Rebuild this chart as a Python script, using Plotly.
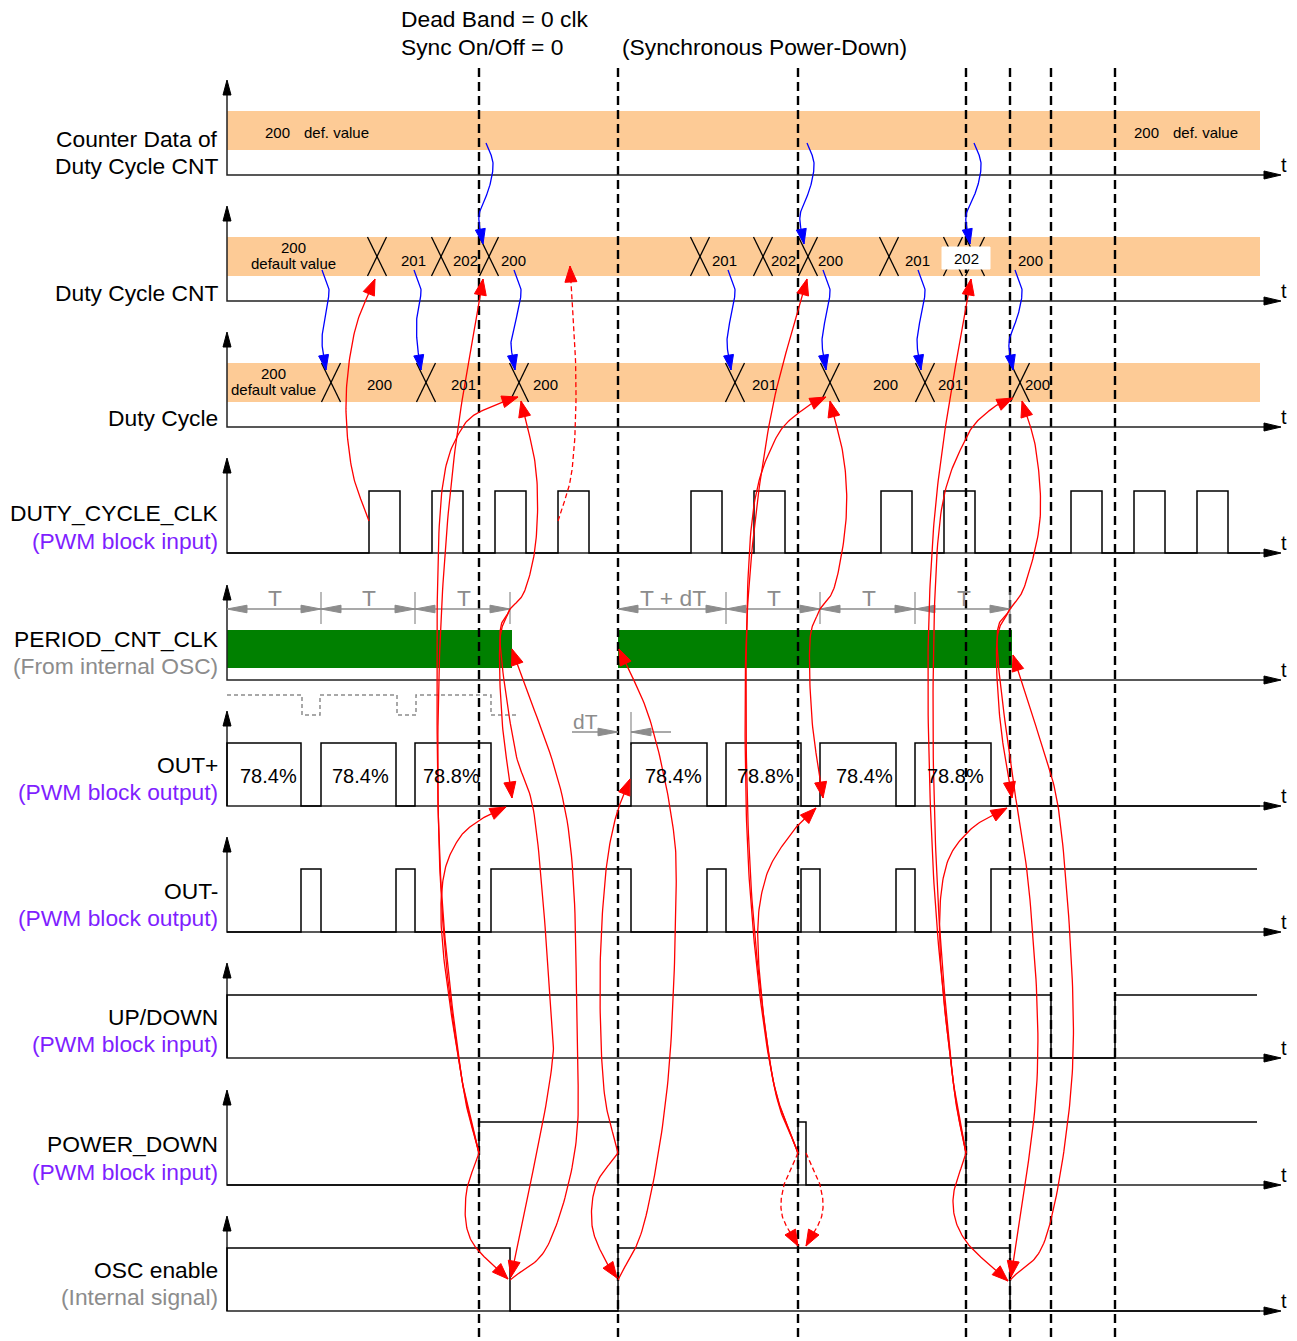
import numpy as np
import plotly.graph_objects as go

W, H = 1297, 1341
FONT = "Liberation Sans, Arial, sans-serif"
PURPLE = "#7F1FFF"
GRAY = "#8C8C8C"
ORANGE = "#FDCB96"
GREEN = "#008000"
RED = "#FF0000"
BLUE = "#0000FF"

# ---------------- data ----------------
T_START, T_SIG_END, T_BAND_END, T_AXIS_END = 227, 1257, 1260, 1281
ROW_BASE = [175, 301, 427, 553, 680, 806, 932, 1058, 1185, 1311]
HIGH = 62
ROW_TITLES = ["Counter Data of", "Duty Cycle CNT", "Duty Cycle", "DUTY_CYCLE_CLK", "PERIOD_CNT_CLK",
              "OUT+", "OUT-", "UP/DOWN", "POWER_DOWN", "OSC enable"]
ROW_SUBTITLES = ["Duty Cycle CNT", None, None, "(PWM block input)", "(From internal OSC)",
                 "(PWM block output)", "(PWM block output)", "(PWM block input)", "(PWM block input)",
                 "(Internal signal)"]
ROW_SUB_COLORS = ["black", None, None, PURPLE, GRAY, PURPLE, PURPLE, PURPLE, PURPLE, GRAY]
ROW_TITLE_DY = [-36, -8, -9, -40, -41, -41, -41, -41, -41, -41]
ROW_SUB_DY = [-9, None, None, -12, -14, -14, -14, -14, -13, -14]

SYNC_T = [479, 618, 798, 966, 1010, 1051, 1115]

COUNTER_TEXT_T = [277, 336, 1146, 1205]
COUNTER_TEXT = ["200", "def. value", "200", "def. value"]

CNT_CROSS_T = [377, 441, 489, 700, 763, 808, 889, 953, 975]
CNT_TEXT_T = [293, 413, 465, 513, 724, 783, 830, 917, 966, 1030]
CNT_TEXT = ["200|default value", "201", "202", "200", "201", "202", "200", "201", "202", "200"]
CNT_BOXED = 966

DC_CROSS_T = [331, 426, 519, 735, 830, 925, 1020]
DC_TEXT_T = [273, 379, 463, 545, 764, 885, 950, 1037]
DC_TEXT = ["200|default value", "200", "201", "200", "201", "200", "201", "200"]

CLK_RISE = [369, 432, 495, 558, 691, 754, 881, 944, 1071, 1134, 1197]
CLK_WIDTH = 31

PERIOD_ON = [(227, 512), (618, 1012)]
T_MARKS = [[227, 321, 415, 510], [618, 726, 820, 915, 1010]]
T_LABELS = [["T", "T", "T"], ["T + dT", "T", "T", "T"]]

GHOST_EDGES = [302, 320, 397, 416, 491]
GHOST_END = 517

OUT_P = [(227, 301), (321, 396), (415, 491), (631, 707), (726, 801), (820, 896), (915, 991)]
OUT_P_DUTY = ["78.4%", "78.4%", "78.8%", "78.4%", "78.8%", "78.4%", "78.8%"]
OUT_P_TEXT_T = [268, 360, 451, 673, 765, 864, 955]
OUT_M = [(301, 321), (396, 415), (491, 631), (707, 726), (801, 820), (896, 915), (991, 1257)]
UP_DOWN = [(227, 1051), (1115, 1257)]
POWER_DOWN = [(479, 618), (798, 806), (966, 1257)]
OSC_EN = [(227, 510), (618, 1010)]

# cause -> effect links (time, y) waypoints
RED_LINKS = [
    ([(369, 521), (352, 470), (346, 400), (355, 330), (375, 279)], False),
    ([(558, 521), (572, 470), (576, 380), (570, 266)], True),
    ([(479, 1153), (462, 1080), (445, 950), (438, 800), (441, 620), (455, 450), (483, 279)], False),
    ([(479, 1153), (462, 1080), (442, 900), (437, 700), (441, 500), (462, 428), (495, 405), (518, 397)], False),
    ([(479, 1153), (462, 1080), (443, 950), (443, 880), (458, 840), (480, 820), (506, 807)], False),
    ([(479, 1153), (466, 1195), (471, 1240), (508, 1279)], False),
    ([(510, 609), (525, 590), (536, 540), (536, 470), (521, 401)], False),
    ([(510, 609), (500, 640), (502, 720), (512, 798)], False),
    ([(510, 609), (500, 640), (515, 750), (535, 820), (550, 1000), (550, 1080), (511, 1277)], False),
    ([(510, 1280), (548, 1245), (575, 1150), (577, 1040), (567, 820), (512, 649)], False),
    ([(618, 1153), (596, 1185), (592, 1225), (604, 1258), (617, 1278)], False),
    ([(618, 1153), (604, 1090), (600, 980), (605, 880), (615, 820), (630, 779)], False),
    ([(618, 1280), (645, 1220), (668, 1080), (676, 900), (672, 820), (650, 720), (619, 649)], False),
    ([(798, 1153), (773, 1080), (755, 950), (746, 800), (748, 600), (770, 420), (807, 279)], False),
    ([(798, 1153), (773, 1080), (752, 900), (746, 700), (752, 520), (775, 440), (805, 408), (826, 397)], False),
    ([(798, 1153), (773, 1080), (758, 950), (765, 880), (790, 835), (816, 808)], False),
    ([(820, 609), (835, 585), (846, 520), (844, 460), (830, 401)], False),
    ([(820, 609), (810, 640), (812, 720), (823, 798)], False),
    ([(798, 1153), (784, 1185), (782, 1215), (798, 1246)], True),
    ([(806, 1153), (820, 1185), (822, 1215), (806, 1246)], True),
    ([(966, 1153), (953, 1080), (935, 900), (928, 700), (932, 550), (945, 430), (971, 279)], False),
    ([(966, 1153), (953, 1080), (938, 900), (933, 700), (940, 520), (965, 440), (990, 410), (1013, 398)], False),
    ([(966, 1153), (953, 1080), (940, 950), (945, 870), (970, 830), (1007, 808)], False),
    ([(966, 1153), (953, 1200), (965, 1240), (1008, 1281)], False),
    ([(1010, 609), (1025, 585), (1040, 520), (1036, 450), (1022, 401)], False),
    ([(1010, 609), (997, 640), (1000, 720), (1012, 798)], False),
    ([(1010, 609), (997, 640), (1010, 760), (1030, 900), (1037, 1080), (1011, 1277)], False),
    ([(1010, 1280), (1045, 1240), (1068, 1120), (1073, 1000), (1060, 820), (1040, 740), (1013, 655)], False),
]

BLUE_LINKS_1 = [(486, 483), (807, 804), (974, 970)]          # row1 -> row2 (start t, end t)
BLUE_LINKS_2 = [(322, 326), (414, 421), (514, 515), (728, 731), (823, 826), (918, 921), (1015, 1013)]

BIG = 22.8


# ---------------- helpers ----------------
def catmull(pts, n=24):
    P = np.array(pts, float)
    P = np.vstack([2 * P[0] - P[1], P, 2 * P[-1] - P[-2]])
    out = []
    for i in range(1, len(P) - 2):
        p0, p1, p2, p3 = P[i - 1], P[i], P[i + 1], P[i + 2]
        for t in np.linspace(0, 1, n, endpoint=False):
            t2, t3 = t * t, t * t * t
            out.append(0.5 * ((2 * p1) + (-p0 + p2) * t + (2 * p0 - 5 * p1 + 4 * p2 - p3) * t2
                              + (-p0 + 3 * p1 - 3 * p2 + p3) * t3))
    out.append(P[-2])
    return np.array(out)


def head(fig, tip, prev, color, L=15, w=5.5):
    tip = np.array(tip, float)
    d = tip - np.array(prev, float)
    d /= np.hypot(*d)
    n = np.array([-d[1], d[0]])
    base = tip - L * d
    pts = [tip, base + w * n, base - w * n, tip]
    fig.add_trace(go.Scatter(x=[p[0] for p in pts], y=[p[1] for p in pts], mode="lines",
                             fill="toself", fillcolor=color, line=dict(color=color, width=1),
                             hoverinfo="skip", showlegend=False))


def poly(fig, xs, ys, color="black", width=1.5, dash=None):
    fig.add_trace(go.Scatter(x=xs, y=ys, mode="lines",
                             line=dict(color=color, width=width, dash=dash),
                             hoverinfo="skip", showlegend=False))


def text(fig, x, y, s, size=15, color="black", anchor="center"):
    fig.add_annotation(x=x, y=y, text=s, showarrow=False, xanchor=anchor, yanchor="middle",
                       font=dict(family=FONT, size=size, color=color))


def wave(intervals, base, high):
    xs, ys = [T_START], [base]
    for a, b in intervals:
        xs += [a, a, b]
        ys += [base, high, high]
        if b < T_SIG_END:
            xs.append(b)
            ys.append(base)
    if xs[-1] < T_SIG_END and ys[-1] == base:
        xs.append(T_BAND_END)
        ys.append(base)
    return xs, ys


def band_text(t, b, s, single_dy):
    if "|" in s:
        top, bottom = s.split("|")
        text(fig, t, b - 54, top, size=15)
        text(fig, t, b - 38, bottom, size=15)
    else:
        text(fig, t, b + single_dy, s, size=15)


fig = go.Figure()
shapes = []

# bands
for r in (0, 1, 2):
    b = ROW_BASE[r]
    shapes.append(dict(type="rect", x0=T_START, x1=T_BAND_END, y0=b - 64, y1=b - 25,
                       fillcolor=ORANGE, line=dict(width=0), layer="below"))
for a, e in PERIOD_ON:
    b = ROW_BASE[4]
    shapes.append(dict(type="rect", x0=a, x1=e, y0=b - 50, y1=b - 12,
                       fillcolor=GREEN, line=dict(width=0), layer="below"))
# sync dashed lines
for t in SYNC_T:
    shapes.append(dict(type="line", x0=t, x1=t, y0=68, y1=H + 10,
                       line=dict(color="black", width=2.4, dash="9px,5px"), layer="below"))

# axes
for b in ROW_BASE:
    poly(fig, [T_START, T_START, T_AXIS_END - 15], [b - 82, b, b], color="#222222", width=1.5)
    head(fig, (T_START, b - 95), (T_START, b), "black", L=15, w=4)
    head(fig, (T_AXIS_END, b), (T_START, b), "black", L=17, w=4)
    text(fig, T_AXIS_END - 2, b - 10, "t", size=20, anchor="left")

# row labels
for i, b in enumerate(ROW_BASE):
    text(fig, 220, b + ROW_TITLE_DY[i], ROW_TITLES[i], size=BIG, anchor="right")
    if ROW_SUBTITLES[i]:
        text(fig, 220, b + ROW_SUB_DY[i], ROW_SUBTITLES[i], size=BIG,
             color=ROW_SUB_COLORS[i], anchor="right")

# title
text(fig, 399, 19, "Dead Band = 0 clk", size=BIG, anchor="left")
text(fig, 399, 47, "Sync On/Off = 0", size=BIG, anchor="left")
text(fig, 620, 47, "(Synchronous Power-Down)", size=BIG, anchor="left")

# counter data
for t, s in zip(COUNTER_TEXT_T, COUNTER_TEXT):
    text(fig, t, ROW_BASE[0] - 43, s, size=15)

# cross marks
for r, crosses in ((1, CNT_CROSS_T), (2, DC_CROSS_T)):
    b = ROW_BASE[r]
    for t in crosses:
        poly(fig, [t - 9.5, t + 9.5, None, t - 9.5, t + 9.5], [b - 64, b - 25, None, b - 25, b - 64],
             width=1.3)
# boxed value
b1 = ROW_BASE[1]
fig.add_trace(go.Scatter(x=[CNT_BOXED - 24, CNT_BOXED + 24, CNT_BOXED + 24, CNT_BOXED - 24, CNT_BOXED - 24],
                         y=[b1 - 54, b1 - 54, b1 - 32, b1 - 32, b1 - 54], mode="lines", fill="toself",
                         fillcolor="white", line=dict(color="white", width=1), hoverinfo="skip",
                         showlegend=False))
for t, s in zip(CNT_TEXT_T, CNT_TEXT):
    band_text(t, b1, s, -43 if t == CNT_BOXED else -41)
b2 = ROW_BASE[2]
for t, s in zip(DC_TEXT_T, DC_TEXT):
    band_text(t, b2, s, -43)

# DUTY_CYCLE_CLK
b = ROW_BASE[3]
xs, ys = wave([(r, r + CLK_WIDTH) for r in CLK_RISE], b, b - HIGH)
poly(fig, xs, ys)

# PERIOD dimension arrows
yd = ROW_BASE[4] - 71
for marks, labels in zip(T_MARKS, T_LABELS):
    for j in range(len(marks) - 1):
        a, e = marks[j], marks[j + 1]
        poly(fig, [a, e], [yd, yd], color=GRAY, width=1.5)
        head(fig, (a, yd), (e, yd), GRAY, L=20, w=3.8)
        head(fig, (e, yd), (a, yd), GRAY, L=20, w=3.8)
        text(fig, (a + e) / 2 + 1, yd - 11, labels[j], size=BIG, color=GRAY)
    for m in marks[1:]:
        poly(fig, [m, m], [yd - 17, yd + 15], color=GRAY, width=1.2)

# ghost waveform
bg = ROW_BASE[5]
gx, gy = [T_START], [bg - 111]
lev = [bg - 111, bg - 91]
state = 0
for e in GHOST_EDGES:
    gx += [e, e]
    gy += [lev[state], lev[1 - state]]
    state = 1 - state
gx.append(GHOST_END)
gy.append(lev[state])
poly(fig, gx, gy, color=GRAY, width=1.5, dash="4px,3px")

# dT dimension
ydt = ROW_BASE[5] - 74
poly(fig, [572, 618], [ydt, ydt], color=GRAY, width=1.5)
head(fig, (618, ydt), (572, ydt), GRAY, L=20, w=3.8)
poly(fig, [631, 671], [ydt, ydt], color=GRAY, width=1.5)
head(fig, (631, ydt), (671, ydt), GRAY, L=20, w=3.8)
poly(fig, [631, 631], [ydt - 20, ydt + 13], color=GRAY, width=1.2)
text(fig, 585, ydt - 11, "dT", size=21, color=GRAY)

# digital waveforms
for r, iv in ((5, OUT_P), (6, OUT_M), (7, UP_DOWN), (8, POWER_DOWN), (9, OSC_EN)):
    b = ROW_BASE[r]
    xs, ys = wave(iv, b, b - HIGH - 1)
    poly(fig, xs, ys)
for t, s in zip(OUT_P_TEXT_T, OUT_P_DUTY):
    text(fig, t, ROW_BASE[5] - 30, s, size=20)


# blue arrows
def blue_link(x0, y0, x1, y1):
    pts = [(x0, y0), (x0 + 7, y0 + 0.2 * (y1 - y0)), (x0 + 3, y0 + 0.45 * (y1 - y0)),
           (x1 - 4, y0 + 0.72 * (y1 - y0)), (x1, y1)]
    c = catmull(pts)
    poly(fig, c[:, 0], c[:, 1], color=BLUE, width=1.3)
    head(fig, c[-1], c[-6], BLUE, L=15, w=5)


for a, e in BLUE_LINKS_1:
    blue_link(a, ROW_BASE[0] - 32, e, ROW_BASE[1] - 57)
for a, e in BLUE_LINKS_2:
    blue_link(a, ROW_BASE[1] - 31, e, ROW_BASE[2] - 57)

# red arrows
for pts, dashed in RED_LINKS:
    c = catmull(pts)
    poly(fig, c[:, 0], c[:, 1], color=RED, width=1.3, dash="5px,3px" if dashed else None)
    head(fig, c[-1], c[-5], RED, L=16, w=6)

fig.update_layout(
    width=W, height=H, margin=dict(l=0, r=0, t=0, b=0),
    paper_bgcolor="white", plot_bgcolor="white", shapes=shapes, showlegend=False,
    xaxis=dict(range=[0, W], visible=False, fixedrange=True),
    yaxis=dict(range=[H, 0], visible=False, fixedrange=True),
)
fig.write_html("out.html", config={"displayModeBar": False},
               post_script="document.body.style.margin='0';")
